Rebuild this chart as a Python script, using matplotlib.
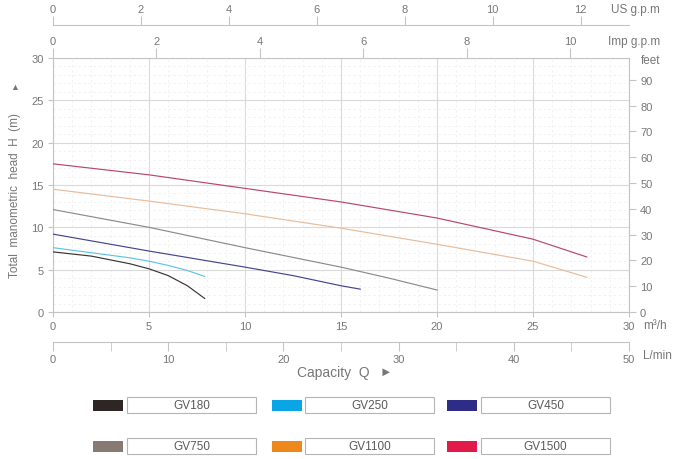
import matplotlib
matplotlib.use('Agg')
import matplotlib.pyplot as plt
from matplotlib.patches import Rectangle
from matplotlib.ticker import MultipleLocator

plt.rcParams['font.family'] = ['Liberation Sans', 'DejaVu Sans']

# Kennlinien (Q in m3/h, H in m)
modelle = ['GV180', 'GV250', 'GV450', 'GV750', 'GV1100', 'GV1500']
q_gv180 = [0, 2, 4, 5, 6, 7, 7.9]
h_gv180 = [7.1, 6.6, 5.7, 5.1, 4.3, 3.1, 1.6]
q_gv250 = [0, 2, 4, 5, 6, 7, 7.9]
h_gv250 = [7.6, 7.0, 6.4, 6.0, 5.5, 4.9, 4.2]
q_gv450 = [0, 5, 10, 12.5, 15, 16.0]
h_gv450 = [9.2, 7.2, 5.3, 4.3, 3.1, 2.7]
q_gv750 = [0, 5, 10, 15, 17.5, 20]
h_gv750 = [12.1, 10.0, 7.6, 5.3, 4.0, 2.6]
q_gv1100 = [0, 5, 10, 15, 20, 25, 27.8]
h_gv1100 = [14.5, 13.1, 11.6, 9.9, 8.0, 6.0, 4.1]
q_gv1500 = [0, 5, 10, 15, 20, 25, 27.8]
h_gv1500 = [17.5, 16.2, 14.6, 13.0, 11.1, 8.6, 6.5]

kurven_q = [q_gv180, q_gv250, q_gv450, q_gv750, q_gv1100, q_gv1500]
kurven_h = [h_gv180, h_gv250, h_gv450, h_gv750, h_gv1100, h_gv1500]

linien_farben = ['#3a3533', '#5fc3e6', '#45458f', '#8f8a86', '#e8bc9a', '#b8486a']
legende_farben = ['#2e2624', '#0aa5e5', '#2d2c86', '#867a72', '#ee881c', '#e21a4a']

# Skalen der Nebenachsen
us_gpm_ticks = [0, 2, 4, 6, 8, 10, 12]
imp_gpm_ticks = [0, 2, 4, 6, 8, 10]
feet_ticks = [0, 10, 20, 30, 40, 50, 60, 70, 80, 90]
lmin_ticks = [0, 10, 20, 30, 40, 50]

W, H = 680, 460
grau = '#777777'
linie = '#c4c4c4'


def fx(x):
    return x / W


def fy(y):
    return 1 - y / H


fig = plt.figure(figsize=(6.8, 4.6), dpi=100)

# Hauptdiagramm
ax = fig.add_axes([fx(53), fy(313), 576 / W, 254 / H])
for q, h, c in zip(kurven_q, kurven_h, linien_farben):
    ax.plot(q, h, color=c, lw=0.85, zorder=3)

ax.set_xlim(0, 30)
ax.set_ylim(0, 30)
ax.xaxis.set_major_locator(MultipleLocator(5))
ax.yaxis.set_major_locator(MultipleLocator(5))
ax.xaxis.set_minor_locator(MultipleLocator(1))
ax.yaxis.set_minor_locator(MultipleLocator(1))
ax.grid(which='major', color='#dadada', lw=0.8)
ax.grid(which='minor', color='#f0f0f0', lw=0.6, ls=(0, (3, 3)))
ax.tick_params(which='major', direction='out', length=3.6, color=linie,
               labelcolor=grau, labelsize=8, pad=3)
ax.tick_params(which='minor', length=0)
for s in ax.spines.values():
    s.set_color(linie)
    s.set_linewidth(0.8)

# feet rechts
ax_ft = ax.twinx()
ax_ft.set_ylim(0, 30 * 3.2808)
ax_ft.set_yticks(feet_ticks)
ax_ft.tick_params(direction='out', length=5, color=linie, labelcolor=grau,
                  labelsize=8, pad=3)
for s in ax_ft.spines.values():
    s.set_visible(False)

# Imp g.p.m oben am Diagramm
ax_imp = ax.twiny()
ax_imp.set_xlim(0, 11.14)
ax_imp.set_xticks(imp_gpm_ticks)
ax_imp.tick_params(direction='out', length=7, color=linie, labelcolor=grau,
                   labelsize=8, pad=1.5)
for s in ax_imp.spines.values():
    s.set_visible(False)

# US g.p.m ganz oben
ax_us = fig.add_axes([fx(53), fy(26), 576 / W, 0.0001])
ax_us.set_facecolor('none')
ax_us.set_xlim(0, 13.1)
ax_us.set_xticks(us_gpm_ticks)
ax_us.set_yticks([])
ax_us.xaxis.tick_top()
ax_us.tick_params(direction='out', length=6.5, color=linie, labelcolor=grau,
                  labelsize=8, pad=1.5)
for k in ['left', 'right', 'bottom']:
    ax_us.spines[k].set_visible(False)
ax_us.spines['top'].set_color(linie)

# L/min unten
ax_l = fig.add_axes([fx(53), fy(343), 576 / W, 0.0001])
ax_l.set_facecolor('none')
ax_l.set_xlim(0, 50)
ax_l.set_xticks(lmin_ticks)
ax_l.xaxis.set_minor_locator(MultipleLocator(5))
ax_l.set_yticks([])
ax_l.tick_params(which='both', direction='out', length=6.5, color=linie,
                 labelcolor=grau, labelsize=8, pad=2)
for k in ['left', 'right', 'top']:
    ax_l.spines[k].set_visible(False)
ax_l.spines['bottom'].set_color(linie)

# Einheiten und Beschriftungen
fig.text(fx(611), fy(10), 'US g.p.m', color=grau, fontsize=8.5, va='center')
fig.text(fx(608), fy(42), 'Imp g.p.m', color=grau, fontsize=8.5, va='center')
fig.text(fx(641), fy(61), 'feet', color=grau, fontsize=8.5, va='center')
fig.text(fx(643), fy(326), 'm³/h', color=grau, fontsize=8.5, va='center')
fig.text(fx(643), fy(356), 'L/min', color=grau, fontsize=8.5, va='center')
fig.text(fx(15), fy(196), 'Total  manometric  head  H  (m)', rotation=90,
         color=grau, fontsize=8.5, ha='center', va='center')
fig.text(fx(15), fy(87), '▲', color=grau, fontsize=6.5, ha='center', va='center')
fig.text(fx(333), fy(373), 'Capacity  Q', color=grau, fontsize=10,
         ha='center', va='center')
fig.text(fx(386), fy(373), '►', color=grau, fontsize=9, ha='center', va='center')

# Legende mit Farbfeld und Rahmen
swatch_x = [93, 272, 447]
box_x = [127, 305, 481]
zeile_y = [406, 447]
for i, (name, farbe) in enumerate(zip(modelle, legende_farben)):
    r, c = i // 3, i % 3
    yc = zeile_y[r]
    fig.add_artist(Rectangle((fx(swatch_x[c]), fy(yc + 5.5)), 30 / W, 11 / H,
                             transform=fig.transFigure, facecolor=farbe,
                             edgecolor='none'))
    fig.add_artist(Rectangle((fx(box_x[c]), fy(yc + 8)), 129 / W, 16 / H,
                             transform=fig.transFigure, facecolor='white',
                             edgecolor='#b5b5b5', lw=0.8))
    fig.text(fx(box_x[c] + 64.5), fy(yc), name, color='#5a5a5a', fontsize=8.5,
             ha='center', va='center')

fig.savefig('out.png', dpi=100)
